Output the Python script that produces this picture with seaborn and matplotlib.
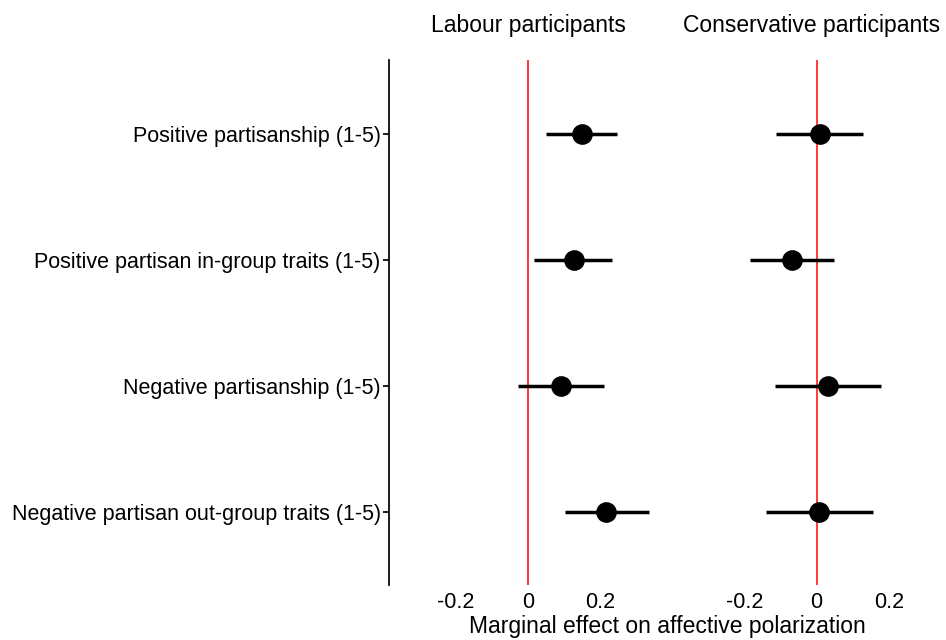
import numpy as np
import pandas as pd
import matplotlib
matplotlib.use("Agg")
import matplotlib.pyplot as plt
import seaborn as sns

predictors = ["Positive partisanship (1-5)",
              "Positive partisan in-group traits (1-5)",
              "Negative partisanship (1-5)",
              "Negative partisan out-group traits (1-5)"]
labour_est = [0.151, 0.127, 0.093, 0.218]
labour_lo = [0.050, 0.018, -0.027, 0.102]
labour_hi = [0.248, 0.233, 0.210, 0.335]
cons_est = [0.010, -0.067, 0.031, 0.008]
cons_lo = [-0.111, -0.183, -0.116, -0.140]
cons_hi = [0.129, 0.048, 0.178, 0.156]
panels = ["Labour participants", "Conservative participants"]

sns.set_theme(style="white")
plt.rcParams["font.family"] = ["Liberation Sans", "DejaVu Sans"]
plt.rcParams["text.color"] = "black"
plt.rcParams["xtick.color"] = "black"
plt.rcParams["ytick.color"] = "black"

ypos = [4, 3, 2, 1]
df = pd.concat([
    pd.DataFrame({"panel": panels[0], "pred": predictors, "y": ypos,
                  "est": labour_est, "lo": labour_lo, "hi": labour_hi}),
    pd.DataFrame({"panel": panels[1], "pred": predictors, "y": ypos,
                  "est": cons_est, "lo": cons_lo, "hi": cons_hi}),
])

fig = plt.figure(figsize=(9.46, 6.4), dpi=100)
ax1 = fig.add_axes([389/946, 1-585/640, 279/946, 525/640])
ax2 = fig.add_axes([677/946, 1-585/640, 269/946, 525/640])

for ax, name in zip([ax1, ax2], panels):
    sub = df[df["panel"] == name]
    ax.axvline(0, color="#ff2a2a", lw=1.3, zorder=1)
    ax.hlines(sub["y"], sub["lo"], sub["hi"], color="black", lw=2.5, zorder=2)
    sns.scatterplot(data=sub, x="est", y="y", ax=ax, color="black", s=190,
                    edgecolor="black", zorder=3, legend=False)
    ax.set_xlim(-0.386, 0.389)
    ax.set_ylim(0.42, 4.59)
    ax.set_xticks([-0.2, 0, 0.2])
    ax.set_xticklabels(["-0.2", "0", "0.2"])
    ax.set_title(name, fontsize=16.5, pad=20, color="black")
    ax.set_xlabel("")
    ax.set_ylabel("")
    for s in ["top", "right", "bottom"]:
        ax.spines[s].set_visible(False)
    ax.tick_params(axis="x", labelsize=15.5, length=0, pad=5)
    ax.tick_params(axis="y", labelsize=15.5)

ax2.set_xlim(-0.386, 0.358)
ax1.spines["left"].set_color("black")
ax1.set_yticks(ypos)
ax1.set_yticklabels(predictors)
ax1.tick_params(axis="y", length=4, color="black", left=True, pad=2)
ax2.spines["left"].set_visible(False)
ax2.set_yticks([])

fig.text(0.5*(389+946)/946, 1-627/640, "Marginal effect on affective polarization",
         ha="center", va="center", fontsize=16.5)

fig.savefig("out.png", dpi=100, facecolor="white")
